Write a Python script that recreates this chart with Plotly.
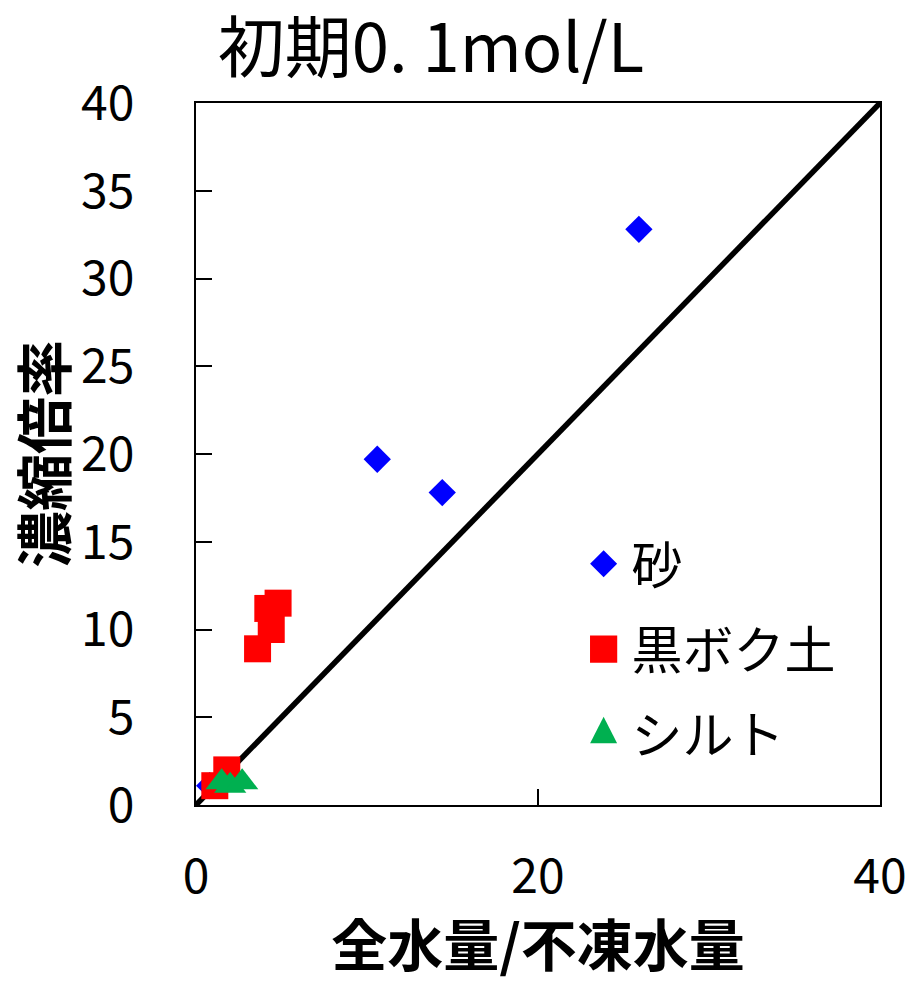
import plotly.graph_objects as go

# 砂 (sand)
sand_x = [0.8, 10.6, 14.4, 25.9]
sand_y = [1.1, 19.7, 17.8, 32.8]
# 黒ボク土 (andosol)
ando_x = [1.1, 1.8, 3.6, 4.4, 4.2, 4.8]
ando_y = [1.1, 2.0, 8.9, 10.0, 11.2, 11.5]
# シルト (silt)
silt_x = [1.5, 2.0, 2.7]
silt_y = [1.3, 1.1, 1.3]
# 1:1 line
line_x = [0, 40]
line_y = [0, 40]

x_ticks = [0, 20, 40]
y_ticks = [0, 5, 10, 15, 20, 25, 30, 35, 40]

FONT = "Noto Sans CJK JP"

fig = go.Figure()
fig.add_trace(go.Scatter(x=line_x, y=line_y, mode="lines",
                         line=dict(color="black", width=5.5), showlegend=False,
                         hoverinfo="skip"))
fig.add_trace(go.Scatter(x=sand_x, y=sand_y, mode="markers", name="砂",
                         legendgroup="a",
                         marker=dict(symbol="diamond", size=21, color="#0000FF")))
fig.add_trace(go.Scatter(x=ando_x, y=ando_y, mode="markers", name="黒ボク土",
                         legendgroup="b",
                         marker=dict(symbol="square", size=27, color="#FF0000")))
fig.add_trace(go.Scatter(x=silt_x, y=silt_y, mode="markers", name="シルト",
                         legendgroup="c",
                         marker=dict(symbol="triangle-up", size=28, color="#00B050")))

fig.update_layout(
    width=911, height=982,
    margin=dict(l=196, r=31, t=103, b=177, autoexpand=False),
    paper_bgcolor="white", plot_bgcolor="white",
    font=dict(family=FONT, color="black", size=48),
    title=dict(text="初期0. 1mol/L", x=0.473, xanchor="center", y=0.951,
               yanchor="middle", font=dict(size=67, family=FONT), automargin=False),
    showlegend=True,
    legend=dict(x=0.555, y=0.40, xanchor="left", yanchor="top",
                bgcolor="rgba(0,0,0,0)", font=dict(size=51, family=FONT),
                tracegroupgap=16, traceorder="grouped", itemwidth=46),
)
fig.update_xaxes(range=[0, 40], tickvals=x_ticks, showgrid=False, zeroline=False,
                 showline=True, linecolor="black", linewidth=2, mirror=True,
                 ticks="inside", ticklen=16, tickwidth=2, tickcolor="black",
                 ticklabelstandoff=28, automargin=False,
                 title=dict(text="<b>全水量/不凍水量</b>", font=dict(size=56), standoff=26))
fig.update_yaxes(range=[0, 40], tickvals=y_ticks, showgrid=False, zeroline=False,
                 showline=True, linecolor="black", linewidth=2, mirror=True,
                 ticks="inside", ticklen=16, tickwidth=2, tickcolor="black",
                 ticklabelstandoff=50, automargin=False,
                 title=dict(text="<b>濃縮倍率</b>", font=dict(size=57), standoff=18))

post = """
document.body.style.margin = '0';
document.body.style.overflow = 'hidden';
var gd = document.getElementById('{plot_id}');
var scales = ['1.3', '1.7', '1.46,2.2'];
function enlargeLegend(){
  gd.querySelectorAll('.legend .traces').forEach(function(tr, i){
    var s = scales[Math.min(i, scales.length - 1)];
    tr.querySelectorAll('.legendpoints path.scatterpts').forEach(function(p){
      var t = p.getAttribute('transform') || '';
      if (t.indexOf('scale') < 0) p.setAttribute('transform', t + ' scale(' + s + ')');
    });
  });
}
enlargeLegend();
gd.on('plotly_afterplot', enlargeLegend);
"""
fig.write_html("out.html", post_script=post, config={"displayModeBar": False})
